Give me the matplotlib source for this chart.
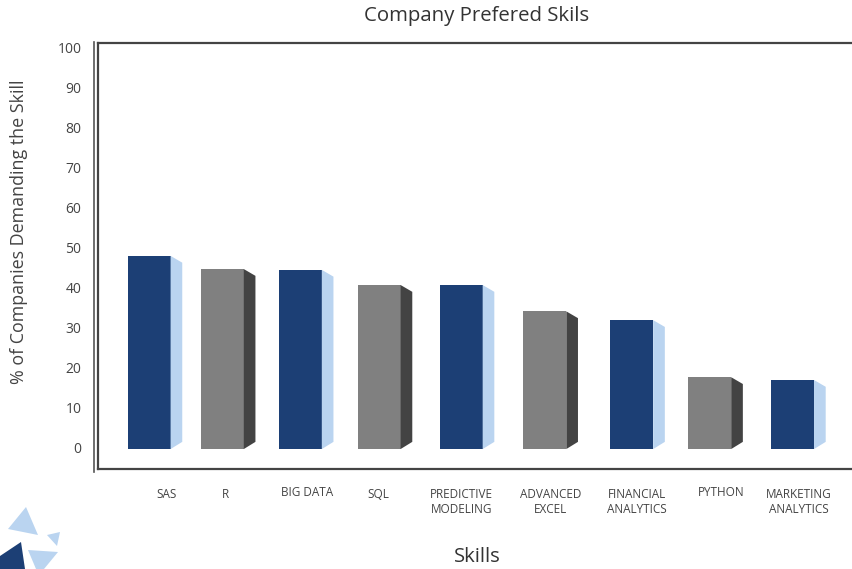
# -*- coding: utf-8 -*-
# Company preferred skills, bars with a fake 3D side face
import matplotlib
matplotlib.use("Agg")
import matplotlib.pyplot as plt
from matplotlib.patches import Polygon

plt.rcParams['font.family'] = ['Open Sans', 'DejaVu Sans']

skills = ["SAS", "R", "BIG DATA", "SQL", "PREDICTIVE\nMODELING", "ADVANCED\nEXCEL",
          "FINANCIAL\nANALYTICS", "PYTHON", "MARKETING\nANALYTICS"]
demand = [47.9, 44.6, 44.4, 40.6, 40.6, 34.0, 31.8, 17.5, 16.8]
y_ticks = [0, 10, 20, 30, 40, 50, 60, 70, 80, 90, 100]

# bars are not evenly spaced in the original
slots = [0, 0.91, 1.88, 2.86, 3.88, 4.92, 6.0, 6.97, 8.0]
label_slots = [0.22, 0.95, 1.96, 2.85, 3.88, 4.99, 6.07, 7.11, 8.08]
label_y = [-12, -12, -11.3, -12, -13.7, -13.7, -13.7, -11.5, -13.7]

W, H = 853, 569
fig = plt.figure(figsize=(W / 100, H / 100), dpi=100)
ax = fig.add_axes([98 / W, (H - 469) / H, (W - 98) / W, 426 / H])
ax.set_xlim(-0.635, 8.752)
ax.set_ylim(-5.5, 101.25)

front = ["#1c3f75", "#808080"]
side = ["#bad4f0", "#434343"]
bar_w = 0.535
depth = 0.145
base = -0.5

for i, (x, v) in enumerate(zip(slots, demand)):
    ax.bar(x, v - base, width=bar_w, bottom=base, color=front[i % 2], linewidth=0)
    r = x + bar_w / 2
    ax.add_patch(Polygon([(r, v), (r + depth, v - 1.7), (r + depth, 1.3), (r, base)],
                         closed=True, facecolor=side[i % 2], edgecolor="none"))

for s in ax.spines.values():
    s.set_linewidth(1.6)
    s.set_color("#444444")
ax.spines['right'].set_visible(False)

ax.set_xticks([])
ax.set_yticks(y_ticks)
ax.tick_params(axis='y', length=0, pad=12, labelsize=10, labelcolor="#444444")

for x, y, s in zip(label_slots, label_y, skills):
    ax.text(x, y, s, ha='center', va='center', fontsize=8.5, color="#444444",
            linespacing=1.2)

# second, outer axis line
fig.add_artist(plt.Line2D([94.5 / W, 94.5 / W], [(H - 472) / H, (H - 42) / H],
                          color="#555555", linewidth=1.2))

fig.text(477 / W, 1 - 16.5 / H, "Company Prefered Skils", ha='center', va='center',
         fontsize=14.7, color="#333333")
# kept a little higher so the text box stays inside the figure
fig.text(477 / W, 1 - 557 / H, "Skills", ha='center', va='center',
         fontsize=14.5, color="#333333")
fig.text(19 / W, 1 - 232 / H, "% of Companies Demanding the Skill", rotation=90,
         ha='center', va='center', fontsize=12.9, color="#444444")

# logo triangles, bottom left corner
logo = [([(26, 507), (8, 529), (38, 535)], "#bad4f0"),
        ([(47, 535), (60, 532), (57, 546)], "#bad4f0"),
        ([(28, 550), (58, 552), (44, 569), (36, 569)], "#bad4f0"),
        ([(21, 542), (0, 556), (0, 569), (25, 569)], "#1c3f75")]
for pts, c in logo:
    fig.add_artist(Polygon([(px / W, 1 - py / H) for px, py in pts], closed=True,
                           facecolor=c, edgecolor="none", transform=fig.transFigure))

fig.savefig("out.png", dpi=100)
